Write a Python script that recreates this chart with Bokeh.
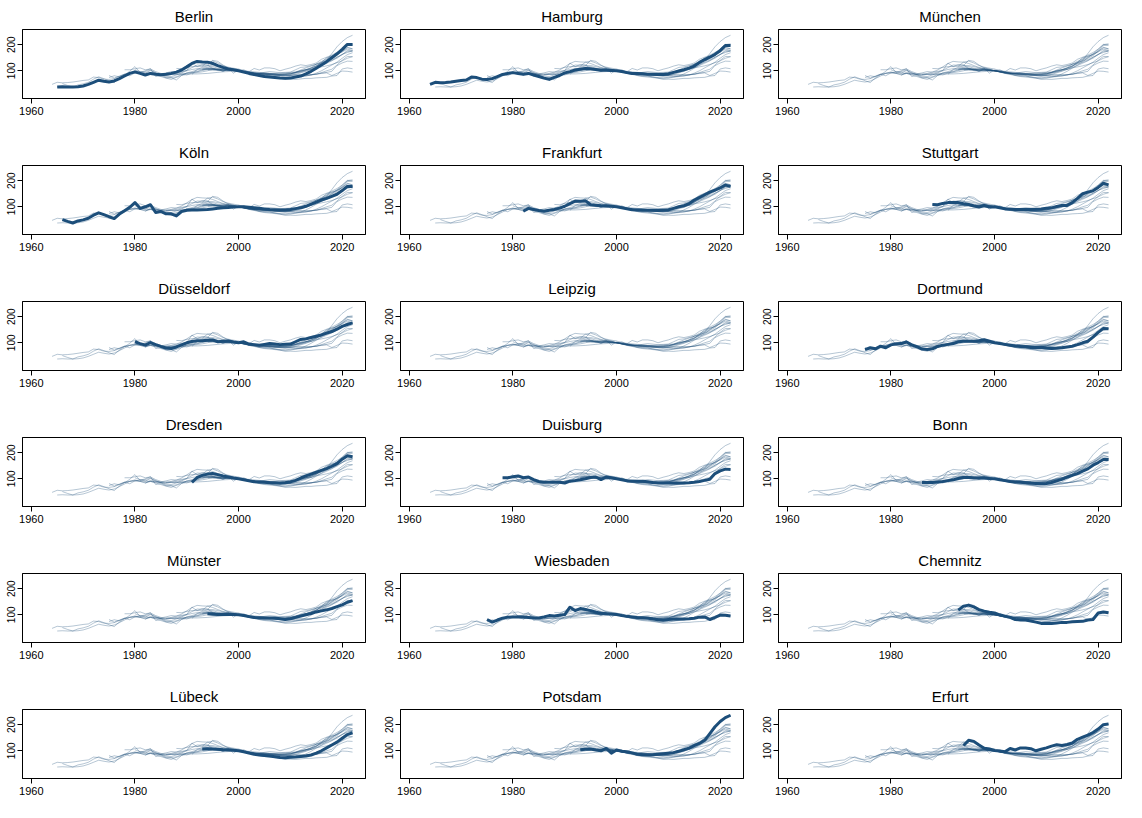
from bokeh.plotting import figure
from bokeh.layouts import gridplot
from bokeh.models import FixedTicker, Range1d
from bokeh.embed import file_html
from bokeh.resources import INLINE

# panel order (row by row)
cities = ["Berlin", "Hamburg", "München", "Köln", "Frankfurt", "Stuttgart",
          "Düsseldorf", "Leipzig", "Dortmund", "Dresden", "Duisburg", "Bonn",
          "Münster", "Wiesbaden", "Chemnitz", "Lübeck", "Potsdam", "Erfurt"]

x_ticks = [1960, 1980, 2000, 2020]
y_ticks = [100, 200]

# index values (2000 = 100), one value per year from the start year
berlin_start = 1965
berlin = [38, 39, 38, 38, 39, 42, 48, 56, 64, 60, 57, 61, 70, 80, 90, 96, 90, 84, 90, 87,
          85, 87, 90, 95, 103, 115, 128, 136, 134, 133, 128, 120, 113, 107, 104, 100, 95, 90,
          86, 82, 78, 76, 74, 72, 71, 72, 76, 80, 88, 98, 110, 122, 135, 150, 165, 182, 201, 201]

hamburg_start = 1964
hamburg = [48, 56, 54, 55, 57, 60, 63, 65, 76, 74, 68, 67, 70, 78, 86, 90, 93, 90, 87, 90,
           84, 78, 72, 67, 75, 82, 92, 97, 103, 106, 109, 108, 105, 102, 102, 101, 100, 97,
           93, 90, 90, 89, 87, 87, 86, 86, 88, 94, 99, 104, 110, 118, 132, 143, 152, 163,
           177, 197, 197]

muenchen_start = 2000
muenchen = []

koeln_start = 1966
koeln = [51, 44, 38, 46, 50, 56, 68, 77, 70, 62, 55, 72, 85, 98, 116, 94, 100, 108, 78, 82,
         73, 73, 65, 82, 87, 88, 88, 89, 90, 92, 94, 96, 97, 99, 100, 100, 98, 96, 94, 92, 90,
         89, 88, 88, 90, 93, 96, 102, 110, 118, 126, 132, 140, 148, 162, 178, 178]

frankfurt_start = 1982
frankfurt = [83, 94, 90, 86, 83, 87, 90, 95, 102, 112, 122, 121, 123, 108, 106, 104, 103, 102,
             100, 96, 92, 89, 88, 87, 87, 87, 86, 87, 88, 94, 100, 104, 112, 126, 136, 146, 156,
             164, 172, 183, 178]

stuttgart_start = 1988
stuttgart = [109, 108, 113, 116, 116, 116, 112, 109, 103, 99, 105, 99, 100, 96, 92, 91, 90, 90,
             90, 90, 91, 92, 94, 96, 101, 105, 105, 116, 132, 150, 156, 161, 174, 190, 184]

duesseldorf_start = 1980
duesseldorf = [104, 97, 91, 101, 93, 86, 80, 78, 84, 92, 100, 105, 108, 108, 110, 111, 104, 106,
               107, 103, 100, 104, 95, 93, 91, 94, 97, 95, 93, 94, 95, 104, 113, 115, 120, 125,
               130, 137, 143, 152, 163, 170, 176]

leipzig_start = 2000
leipzig = []

dortmund_start = 1975
dortmund = [74, 81, 77, 87, 81, 92, 96, 97, 103, 92, 85, 76, 74, 77, 86, 91, 94, 97, 104, 106,
            106, 106, 108, 112, 106, 100, 97, 94, 91, 88, 86, 85, 82, 82, 83, 80, 78, 79, 81, 84,
            87, 93, 100, 106, 122, 140, 155, 154]

dresden_start = 1991
dresden = [86, 105, 113, 118, 120, 116, 111, 107, 103, 100, 96, 92, 89, 88, 87, 85, 84, 83, 85,
           88, 94, 103, 111, 118, 125, 132, 139, 148, 158, 175, 188, 184]

duisburg_start = 1978
duisburg = [104, 104, 108, 111, 104, 107, 97, 90, 87, 87, 87, 87, 84, 91, 93, 96, 100, 105, 107,
            97, 107, 104, 100, 96, 92, 91, 91, 91, 89, 86, 84, 84, 84, 84, 84, 84, 85, 87, 90,
            94, 98, 120, 130, 137, 136]

bonn_start = 1986
bonn = [86, 86, 86, 88, 90, 93, 96, 101, 105, 105, 103, 103, 103, 101, 100, 96, 93, 90, 88, 87,
        85, 83, 82, 81, 82, 86, 92, 98, 106, 113, 120, 129, 138, 152, 162, 174, 174]

muenster_start = 1994
muenster = [104, 102, 101, 101, 101, 101, 100, 97, 93, 90, 89, 88, 88, 88, 85, 82, 85, 90, 95,
            100, 105, 111, 115, 119, 124, 131, 138, 148, 154]

wiesbaden_start = 1975
wiesbaden = [82, 72, 80, 87, 91, 92, 92, 92, 90, 88, 88, 92, 97, 95, 98, 101, 129, 116, 124, 120,
             116, 110, 106, 104, 103, 101, 97, 94, 92, 90, 89, 88, 84, 81, 79, 82, 84, 84, 84, 85,
             87, 91, 92, 82, 90, 99, 98, 95]

chemnitz_start = 1993
chemnitz = [118, 133, 137, 130, 120, 114, 110, 107, 100, 95, 90, 82, 80, 80, 76, 72, 67, 68, 67,
            69, 71, 71, 73, 74, 75, 80, 82, 107, 111, 108]

luebeck_start = 1993
luebeck = [107, 108, 107, 106, 104, 103, 102, 100, 96, 91, 87, 84, 82, 80, 77, 74, 73, 75, 76, 78,
           80, 84, 91, 100, 111, 122, 133, 148, 162, 169]

potsdam_start = 1993
potsdam = [104, 106, 107, 103, 100, 109, 91, 103, 98, 96, 92, 87, 85, 84, 85, 87, 89, 91, 93, 98,
           104, 110, 120, 128, 140, 166, 192, 212, 227, 236]

erfurt_start = 1994
erfurt = [120, 140, 136, 122, 110, 107, 101, 99, 96, 109, 103, 111, 111, 108, 100, 106, 111, 118,
          123, 120, 124, 130, 144, 152, 160, 170, 183, 200, 203]

series = {
    "Berlin": (berlin_start, berlin), "Hamburg": (hamburg_start, hamburg),
    "München": (muenchen_start, muenchen), "Köln": (koeln_start, koeln),
    "Frankfurt": (frankfurt_start, frankfurt), "Stuttgart": (stuttgart_start, stuttgart),
    "Düsseldorf": (duesseldorf_start, duesseldorf), "Leipzig": (leipzig_start, leipzig),
    "Dortmund": (dortmund_start, dortmund), "Dresden": (dresden_start, dresden),
    "Duisburg": (duisburg_start, duisburg), "Bonn": (bonn_start, bonn),
    "Münster": (muenster_start, muenster), "Wiesbaden": (wiesbaden_start, wiesbaden),
    "Chemnitz": (chemnitz_start, chemnitz), "Lübeck": (luebeck_start, luebeck),
    "Potsdam": (potsdam_start, potsdam), "Erfurt": (erfurt_start, erfurt),
}


def years_for(name):
    start, vals = series[name]
    return [start + i for i in range(len(vals))], vals


dark = "#1c4e7a"
font = "Liberation Sans"

figs = []
for i, city in enumerate(cities):
    last_row = i >= 15
    p = figure(width=378, height=118 if last_row else 136,
               output_backend="svg", toolbar_location=None,
               x_range=Range1d(1958.3, 2024.5), y_range=Range1d(-6, 258),
               min_border_left=22, min_border_right=13, min_border_top=2,
               min_border_bottom=20 if last_row else 38)
    p.title.text = city
    p.title.align = "center"
    p.title.text_font = font
    p.title.text_font_size = "15px"
    p.title.text_font_style = "normal"
    p.title.text_color = "black"

    # all cities as thin lines
    for other in cities:
        xs, ys = years_for(other)
        if ys:
            p.line(xs, ys, line_color=dark, line_alpha=0.36, line_width=0.9)

    # the city of this panel
    xs, ys = years_for(city)
    if ys:
        p.line(xs, ys, line_color=dark, line_width=3, line_join="round")

    p.xgrid.visible = False
    p.ygrid.visible = False
    p.outline_line_color = "black"
    p.outline_line_alpha = 1
    p.outline_line_width = 1
    p.xaxis.ticker = FixedTicker(ticks=x_ticks)
    p.yaxis.ticker = FixedTicker(ticks=y_ticks)
    for ax in (p.xaxis, p.yaxis):
        ax.axis_line_color = "black"
        ax.major_tick_line_color = "black"
        ax.major_tick_in = 0
        ax.major_tick_out = 5
        ax.minor_tick_line_color = None
        ax.major_label_text_font = font
        ax.major_label_text_color = "black"
    p.xaxis.major_label_text_font_size = "11px"
    p.xaxis.major_label_standoff = 3
    p.yaxis.major_label_text_font_size = "10px"
    p.yaxis.major_label_orientation = "parallel"
    p.yaxis.major_label_standoff = 2
    figs.append(p)

grid = gridplot(figs, ncols=3, toolbar_location=None)

open("out.html", "w").write(file_html(grid, INLINE))
